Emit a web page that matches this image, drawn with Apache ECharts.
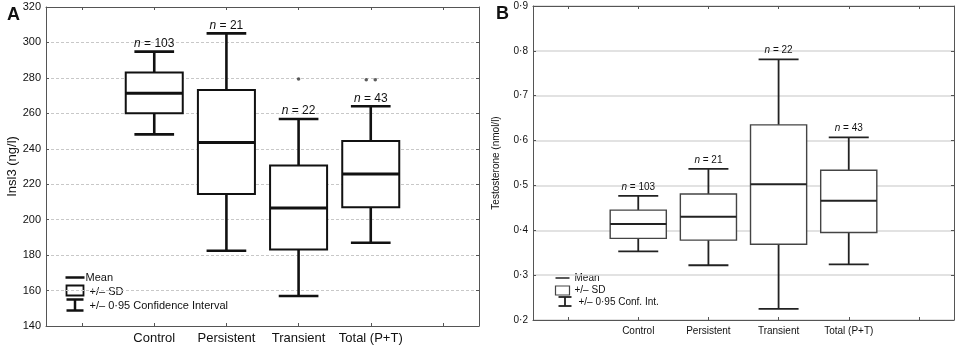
<!DOCTYPE html>
<html>
<head>
<meta charset="utf-8">
<script src="https://cdn.jsdelivr.net/npm/echarts@6/dist/echarts.min.js"></script>
<style>
  html, body { margin: 0; padding: 0; background: #fff; }
  #chart { width: 957px; height: 345px; }
</style>
</head>
<body>
<div id="chart"></div>
<script>
const categories = ['Control', 'Persistent', 'Transient', 'Total (P+T)']
const nCounts = [103, 21, 22, 43]

// panel A, Insl3 (ng/l)
const insl3Mean = [271.3, 243.6, 206.6, 225.8]
const insl3SdLow = [260, 214.5, 183.2, 207]
const insl3SdHigh = [283.1, 273.2, 230.5, 244.4]
const insl3CiLow = [248.1, 182.5, 156.9, 187]
const insl3CiHigh = [294.8, 305.1, 256.8, 264]
const insl3Outliers = [['Transient', 279.4], ['Total (P+T)', 279], ['Total (P+T)', 279]]
const insl3Ticks = [140, 160, 180, 200, 220, 240, 260, 280, 300, 320]

// panel B, Testosterone (nmol/l)
const testoMean = [0.414, 0.43, 0.5025, 0.466]
const testoSdLow = [0.382, 0.378, 0.369, 0.395]
const testoSdHigh = [0.445, 0.481, 0.635, 0.534]
const testoCiLow = [0.353, 0.322, 0.225, 0.324]
const testoCiHigh = [0.4765, 0.537, 0.781, 0.607]
const testoTicks = [0.2, 0.3, 0.4, 0.5, 0.6, 0.7, 0.8, 0.9]

const FONT = 'Liberation Sans, Arial, sans-serif'
const axisCats = [''].concat(categories, [' '])

const boxRows = (lo, q1, mean, q3, hi) =>
  categories.map((c, i) => [i + 1, lo[i], q1[i], mean[i], q3[i], hi[i], nCounts[i]])

const makeRender = (st) => (params, api) => {
  const x = api.value(0)
  const lo = api.coord([x, api.value(1)])
  const q1 = api.coord([x, api.value(2)])
  const mean = api.coord([x, api.value(3)])
  const q3 = api.coord([x, api.value(4)])
  const hi = api.coord([x, api.value(5)])
  const band = api.size([1, 0])[0]
  const bw = band * st.box
  const cw = band * st.cap
  const cx = lo[0]
  const line = (x1, y1, x2, y2, w) => ({
    type: 'line',
    shape: { x1, y1, x2, y2 },
    style: { stroke: st.color, lineWidth: w },
  })
  return {
    type: 'group',
    children: [
      line(cx, hi[1], cx, lo[1], st.whisker),
      line(cx - cw / 2, hi[1], cx + cw / 2, hi[1], st.whisker),
      line(cx - cw / 2, lo[1], cx + cw / 2, lo[1], st.whisker),
      {
        type: 'rect',
        shape: { x: cx - bw / 2, y: q3[1], width: bw, height: q1[1] - q3[1] },
        style: { fill: '#fff', stroke: st.boxColor, lineWidth: st.boxLine },
      },
      line(cx - bw / 2, mean[1], cx + bw / 2, mean[1], st.mean),
      {
        type: 'text',
        x: cx,
        y: hi[1] - st.labelGap,
        style: {
          text: '{i|n} = ' + api.value(6),
          rich: { i: { fontStyle: 'italic', fontSize: st.labelSize, fontFamily: FONT, fill: '#111' } },
          fontSize: st.labelSize,
          fontFamily: FONT,
          fill: '#111',
          align: 'center',
          verticalAlign: 'bottom',
        },
      },
    ],
  }
}

// spread repeated outliers of the same group side by side
const outlierItems = (list) => {
  const seen = {}
  return list.map(([cat, v]) => {
    const total = list.filter((o) => o[0] === cat).length
    const k = seen[cat] || 0
    seen[cat] = k + 1
    return { value: [categories.indexOf(cat) + 1, v], symbolOffset: [(k - (total - 1) / 2) * 9, 0] }
  })
}

const frame = '#555'
const mkX = (grid, pos, labelSize) => ({
  type: 'category',
  gridIndex: grid,
  position: pos,
  data: axisCats,
  boundaryGap: true,
  axisLine: { show: true, lineStyle: { color: frame, width: 1 } },
  axisTick: { show: true, inside: true, length: 3, alignWithLabel: true, interval: 0, lineStyle: { color: frame } },
  axisLabel: { show: pos === 'bottom', interval: 0, color: '#111', fontSize: labelSize, fontFamily: FONT, margin: 6 },
  splitLine: { show: false },
})
const mkY = (grid, pos, ticks, opts) => ({
  type: 'value',
  gridIndex: grid,
  position: pos,
  min: ticks[0],
  max: ticks[ticks.length - 1],
  interval: opts.interval,
  name: pos === 'left' ? opts.name : '',
  nameLocation: 'middle',
  nameGap: opts.nameGap,
  nameTextStyle: { color: '#111', fontSize: opts.nameSize, fontFamily: FONT },
  axisLine: { show: true, lineStyle: { color: frame, width: 1 } },
  axisTick: { show: true, inside: true, length: 3, lineStyle: { color: frame } },
  axisLabel: {
    show: pos === 'left',
    color: '#111',
    fontSize: opts.labelSize,
    fontFamily: FONT,
    margin: 5,
    formatter: opts.formatter,
  },
  splitLine: { show: pos === 'left', lineStyle: opts.split },
})

const chart = echarts.init(document.getElementById('chart'))

const legendA = {
  type: 'group',
  left: 63,
  top: 272,
  children: [
    { type: 'line', shape: { x1: 0, y1: 7, x2: 19, y2: 7 }, style: { stroke: '#111', lineWidth: 2.5 } },
    { type: 'text', x: 20, y: 7, style: { text: 'Mean', fontSize: 11, fontFamily: FONT, fill: '#111', verticalAlign: 'middle' } },
    { type: 'rect', shape: { x: 1, y: 15, width: 17, height: 10 }, style: { fill: '#fff', stroke: '#111', lineWidth: 1.8 } },
    { type: 'text', x: 24, y: 21, style: { text: '+/– SD', fontSize: 11, fontFamily: FONT, fill: '#111', verticalAlign: 'middle' } },
    { type: 'line', shape: { x1: 1, y1: 29, x2: 18, y2: 29 }, style: { stroke: '#111', lineWidth: 2.5 } },
    { type: 'line', shape: { x1: 9.5, y1: 29, x2: 9.5, y2: 40 }, style: { stroke: '#111', lineWidth: 2.5 } },
    { type: 'line', shape: { x1: 1, y1: 40, x2: 18, y2: 40 }, style: { stroke: '#111', lineWidth: 2.5 } },
    { type: 'text', x: 24, y: 35, style: { text: '+/– 0·95 Confidence Interval', fontSize: 11, fontFamily: FONT, fill: '#111', verticalAlign: 'middle' } },
  ],
}

const legendB = {
  type: 'group',
  left: 553,
  top: 273,
  children: [
    { type: 'line', shape: { x1: 0, y1: 6, x2: 14, y2: 6 }, style: { stroke: '#222', lineWidth: 1.5 } },
    { type: 'text', x: 19, y: 6, style: { text: 'Mean', fontSize: 10, fontFamily: FONT, fill: '#111', verticalAlign: 'middle' } },
    { type: 'rect', shape: { x: 0, y: 14, width: 14, height: 9 }, style: { fill: '#fff', stroke: '#444', lineWidth: 1.2 } },
    { type: 'text', x: 19, y: 18, style: { text: '+/– SD', fontSize: 10, fontFamily: FONT, fill: '#111', verticalAlign: 'middle' } },
    { type: 'line', shape: { x1: 3, y1: 25, x2: 16, y2: 25 }, style: { stroke: '#222', lineWidth: 1.8 } },
    { type: 'line', shape: { x1: 9.5, y1: 25, x2: 9.5, y2: 34 }, style: { stroke: '#222', lineWidth: 1.8 } },
    { type: 'line', shape: { x1: 3, y1: 34, x2: 16, y2: 34 }, style: { stroke: '#222', lineWidth: 1.8 } },
    { type: 'text', x: 23, y: 30, style: { text: '+/– 0·95 Conf. Int.', fontSize: 10, fontFamily: FONT, fill: '#111', verticalAlign: 'middle' } },
  ],
}

chart.setOption({
  animation: false,
  backgroundColor: '#fff',
  title: [
    { text: 'A', left: 2, top: 1, textStyle: { fontSize: 18, fontWeight: 'bold', fontFamily: FONT, color: '#111' } },
    { text: 'B', left: 491, top: 0, textStyle: { fontSize: 18, fontWeight: 'bold', fontFamily: FONT, color: '#111' } },
  ],
  grid: [
    { left: 46, top: 7, width: 433, height: 319 },
    { left: 533, top: 6, width: 421, height: 314 },
  ],
  xAxis: [mkX(0, 'bottom', 13), mkX(0, 'top', 13), mkX(1, 'bottom', 10), mkX(1, 'top', 10)],
  yAxis: [
    mkY(0, 'left', insl3Ticks, {
      interval: 20, name: 'Insl3 (ng/l)', nameGap: 26, nameSize: 13, labelSize: 11,
      split: { color: '#c8c8c8', type: [3, 2], width: 1 },
    }),
    mkY(0, 'right', insl3Ticks, { interval: 20 }),
    mkY(1, 'left', testoTicks, {
      interval: 0.1, name: 'Testosterone (nmol/l)', nameGap: 32, nameSize: 10, labelSize: 10,
      formatter: (v) => v.toFixed(1).replace('.', '·'),
      split: { color: '#d8d8d8', type: 'solid', width: 1.5 },
    }),
    mkY(1, 'right', testoTicks, { interval: 0.1 }),
  ],
  series: [
    {
      type: 'custom',
      xAxisIndex: 0,
      yAxisIndex: 0,
      renderItem: makeRender({ box: 0.79, cap: 0.55, color: '#111', boxColor: '#111', whisker: 2.6, boxLine: 2, mean: 3, labelSize: 12, labelGap: 2 }),
      encode: { x: 0, y: [1, 2, 3, 4, 5] },
      data: boxRows(insl3CiLow, insl3SdLow, insl3Mean, insl3SdHigh, insl3CiHigh),
      z: 3,
    },
    {
      type: 'scatter',
      xAxisIndex: 0,
      yAxisIndex: 0,
      symbol: 'circle',
      symbolSize: 3.5,
      itemStyle: { color: '#333' },
      data: outlierItems(insl3Outliers),
      z: 4,
    },
    {
      type: 'custom',
      xAxisIndex: 2,
      yAxisIndex: 2,
      renderItem: makeRender({ box: 0.8, cap: 0.57, color: '#222', boxColor: '#444', whisker: 1.8, boxLine: 1.4, mean: 2, labelSize: 10, labelGap: 4 }),
      encode: { x: 0, y: [1, 2, 3, 4, 5] },
      data: boxRows(testoCiLow, testoSdLow, testoMean, testoSdHigh, testoCiHigh),
      z: 3,
    },
  ],
  graphic: [legendA, legendB],
})
</script>
</body>
</html>
